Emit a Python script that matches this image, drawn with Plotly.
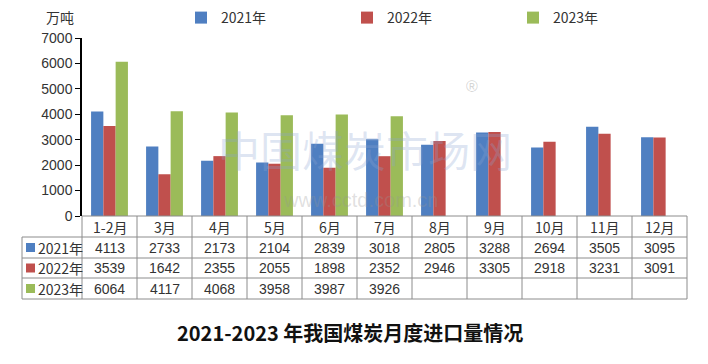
import plotly.graph_objects as go

categories = ["1-2月", "3月", "4月", "5月", "6月", "7月", "8月", "9月", "10月", "11月", "12月"]
series_names = ["2021年", "2022年", "2023年"]
v2021 = [4113, 2733, 2173, 2104, 2839, 3018, 2805, 3288, 2694, 3505, 3095]
v2022 = [3539, 1642, 2355, 2055, 1898, 2352, 2946, 3305, 2918, 3231, 3091]
v2023 = [6064, 4117, 4068, 3958, 3987, 3926, None, None, None, None, None]
colors = ["#4F7FC1", "#C0504D", "#9BBB59"]
y_ticks = [0, 1000, 2000, 3000, 4000, 5000, 6000, 7000]
title = "2021-2023 年我国煤炭月度进口量情况"
unit = "万吨"
watermark = "中国煤炭市场网"
watermark_url = "www.cctd.com.cn"

W, H = 708, 364
L, R, T, B = 82, 21, 38, 148
plot_h = H - T - B
FONT = "Liberation Sans, Arial, Noto Sans CJK SC, sans-serif"
CJK = "Noto Sans CJK SC, Liberation Sans, sans-serif"


def py(p):
    return (H - B - p) / plot_h


def px(p):
    return (p - L) / (W - L - R)


fig = go.Figure()
for name, vals, c in zip(series_names, [v2021, v2022, v2023], colors):
    fig.add_bar(x=categories, y=vals, name=name, marker_color=c, marker_line_width=0)

shapes = []
annotations = []
line_col = "#8c8c8c"
row_y = [216, 237, 258, 278, 299]
n = len(categories)
col_w = (W - L - R) / n
shapes.append(dict(type="line", xref="paper", yref="paper", x0=0, x1=1, y0=py(216), y1=py(216), line=dict(color=line_col, width=1)))
for yy in row_y[1:]:
    shapes.append(dict(type="line", xref="paper", yref="paper", x0=px(22), x1=1, y0=py(yy), y1=py(yy), line=dict(color=line_col, width=1)))
for i in range(n + 1):
    xx = L + i * col_w
    shapes.append(dict(type="line", xref="paper", yref="paper", x0=px(xx), x1=px(xx), y0=py(216), y1=py(299), line=dict(color=line_col, width=1)))
shapes.append(dict(type="line", xref="paper", yref="paper", x0=px(22), x1=px(22), y0=py(237), y1=py(299), line=dict(color=line_col, width=1)))

# faint watermark, kept clear of the table text
annotations.append(dict(x=px(365), xref="paper", yref="paper", y=py(148), text=watermark, showarrow=False,
                        xanchor="center", yanchor="middle",
                        font=dict(family=CJK, size=42, color="rgba(140,165,210,0.28)")))
annotations.append(dict(x=px(360), xref="paper", yref="paper", y=py(200), text=watermark_url, showarrow=False,
                        xanchor="center", yanchor="middle",
                        font=dict(family=FONT, size=20, color="rgba(150,150,150,0.30)")))
annotations.append(dict(x=px(472), xref="paper", yref="paper", y=py(86), text="®", showarrow=False,
                        xanchor="center", yanchor="middle",
                        font=dict(family=FONT, size=16, color="rgba(160,160,160,0.45)")))

for c in categories:
    annotations.append(dict(x=c, xref="x", yref="paper", y=py(226.5), text=c, showarrow=False,
                            xanchor="center", yanchor="middle",
                            font=dict(family=CJK, size=14, color="#333333")))
for r, (name, vals, col) in enumerate(zip(series_names, [v2021, v2022, v2023], colors)):
    yc = (row_y[r + 1] + row_y[r + 2]) / 2
    for c, v in zip(categories, vals):
        if v is not None:
            annotations.append(dict(x=c, xref="x", yref="paper", y=py(yc), text=str(v), showarrow=False,
                                    xanchor="center", yanchor="middle",
                                    font=dict(family=FONT, size=14, color="#333333")))
    shapes.append(dict(type="rect", xref="paper", yref="paper", x0=px(26), x1=px(35), y0=py(yc + 4.5), y1=py(yc - 4.5),
                       fillcolor=col, line=dict(width=0)))
    annotations.append(dict(x=px(36), xref="paper", yref="paper", y=py(yc), text=name, showarrow=False,
                            xanchor="left", yanchor="middle",
                            font=dict(family=CJK, size=14, color="#333333")))

annotations.append(dict(x=px(44), xref="paper", yref="paper", y=py(17), text=unit, showarrow=False,
                        xanchor="left", yanchor="middle",
                        font=dict(family=CJK, size=14, color="#333333")))
annotations.append(dict(x=px(350), xref="paper", yref="paper", y=py(332), text="<b>" + title + "</b>", showarrow=False,
                        xanchor="center", yanchor="middle",
                        font=dict(family=CJK, size=20, color="#111111")))

fig.update_layout(
    width=W, height=H,
    margin=dict(l=L, r=R, t=T, b=B, autoexpand=False),
    paper_bgcolor="white", plot_bgcolor="white",
    barmode="group", bargap=0.33, bargroupgap=0,
    showlegend=True,
    legend=dict(orientation="h", x=px(181), y=py(2), xanchor="left", yanchor="top",
                entrywidth=121, entrywidthmode="pixels", itemwidth=30,
                font=dict(family=CJK, size=14, color="#333333"), bgcolor="rgba(0,0,0,0)"),
    shapes=shapes, annotations=annotations,
    xaxis=dict(showticklabels=False, showline=False, ticks="", showgrid=False, zeroline=False),
    yaxis=dict(range=[0, 7000], tickvals=y_ticks, showgrid=False, zeroline=False, showline=True,
               linecolor="black", linewidth=1.5, ticks="outside", ticklen=5, tickcolor="black",
               tickfont=dict(family=FONT, size=14, color="#333333")),
)
fig.write_html("out.html", config={"displayModeBar": False},
               post_script="document.body.style.margin='0';")
